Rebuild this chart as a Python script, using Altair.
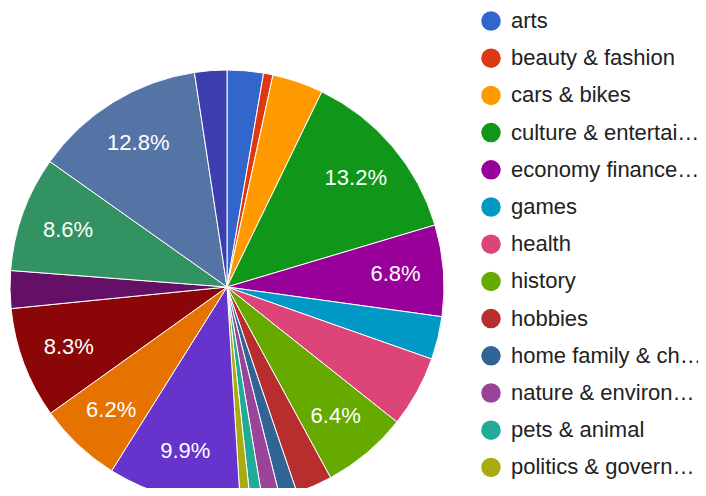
import altair as alt
import pandas as pd

categories = [
    "arts", "beauty & fashion", "cars & bikes", "culture & entertainment",
    "economy finance & business", "games", "health", "history", "hobbies",
    "home family & children", "nature & environment", "pets & animal",
    "politics & government", "religion & spirituality", "science & technology",
    "society", "sports", "technology", "travel", "world news",
]
values = [2.7, 0.7, 3.8, 13.2, 6.8, 3.2, 5.3, 6.4, 2.7, 1.3, 1.3, 0.9, 0.75,
          9.9, 6.2, 8.3, 2.8, 8.6, 12.8, 2.4]
colors = ["#3366cc", "#dc3912", "#ff9900", "#109618", "#990099", "#0099c6",
          "#dd4477", "#66aa00", "#b82e2e", "#316395", "#994499", "#22aa99",
          "#aaaa11", "#6633cc", "#e67300", "#8b0707", "#651067", "#329262",
          "#5574a6", "#3b3eac"]
legend_shown = categories[:13]

df = pd.DataFrame({
    "category": categories,
    "value": values,
    "idx": list(range(len(categories))),
})
df["label"] = [f"{v:.1f}%" if v >= 6 else "" for v in values]

FONT = "Liberation Sans, Arial, sans-serif"
CX, CY = 219, 279

base = alt.Chart(df).encode(
    theta=alt.Theta("value:Q", stack=True),
    order=alt.Order("idx:Q"),
)

arcs = base.mark_arc(outerRadius=217, stroke="white", strokeWidth=1).encode(
    x=alt.value(CX),
    y=alt.value(CY),
    color=alt.Color(
        "category:N",
        scale=alt.Scale(domain=categories, range=colors),
        legend=alt.Legend(
            title=None,
            values=legend_shown,
            orient="none",
            legendX=472,
            legendY=2,
            symbolType="circle",
            symbolSize=380,
            symbolStrokeWidth=0,
            labelFont=FONT,
            labelFontSize=22,
            labelColor="#222222",
            labelLimit=194,
            labelOffset=9,
            rowPadding=15.2,
            padding=0,
        ),
    ),
)

labels = base.mark_text(radius=169, fontSize=22, font=FONT, color="white").encode(
    x=alt.value(CX),
    y=alt.value(CY),
    text="label:N",
)

chart = (arcs + labels).properties(
    width=690, height=480, autosize=alt.AutoSizeParams(type="none"), padding=0
).configure_view(stroke=None)

chart.save("out.html", embed_options={"renderer": "svg", "actions": False})
